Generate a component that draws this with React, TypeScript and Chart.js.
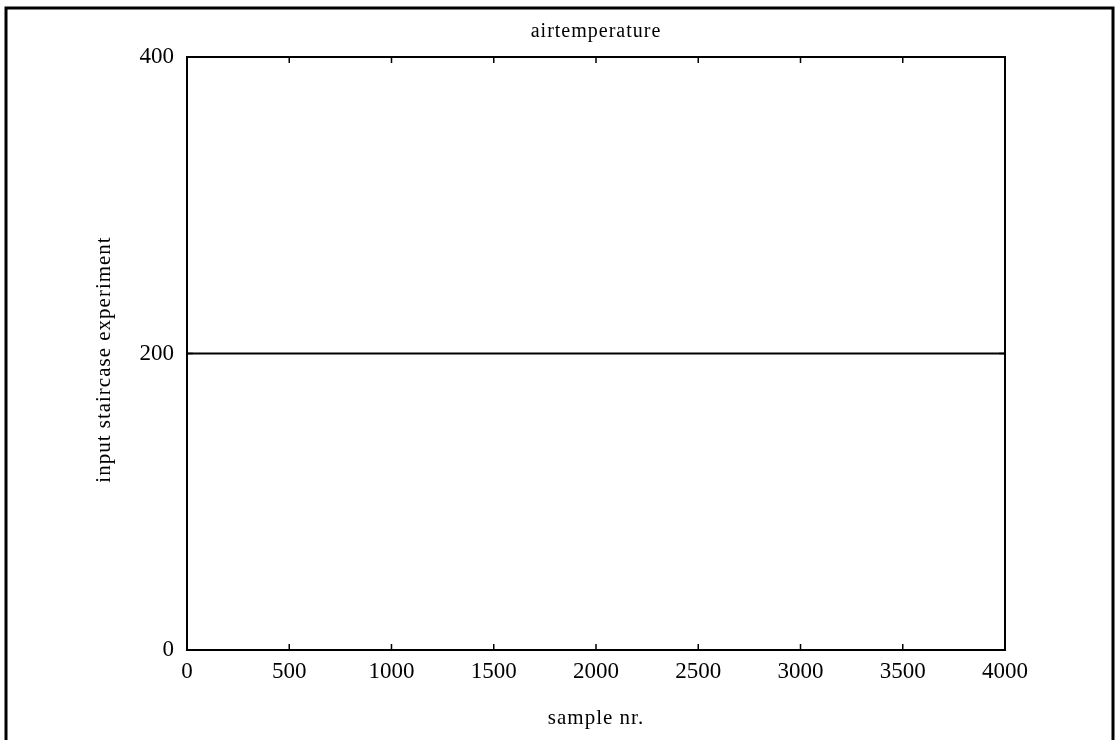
import React, { useEffect, useRef } from "react";
import { Chart, registerables } from "chart.js";

Chart.register(...registerables);

const TITLE = "airtemperature";
const X_LABEL = "sample nr.";
const Y_LABEL = "input staircase experiment";
const sampleNr = [0, 1000, 2000, 3000, 4000];
const inputValues = [200, 200, 200, 200, 200];
const xTicks = [0, 500, 1000, 1500, 2000, 2500, 3000, 3500, 4000];
const yTicks = [0, 200, 400];

const FONT = "'Liberation Serif', 'DejaVu Serif', serif";

const framePlugin = {
  id: "framePlugin",
  afterDraw(chart: any) {
    const { ctx, chartArea, scales } = chart;
    const { left, right, top, bottom } = chartArea;
    ctx.save();
    ctx.strokeStyle = "#000";
    ctx.lineWidth = 2;
    ctx.strokeRect(left, top, right - left, bottom - top);
    ctx.lineWidth = 1.5;
    const tl = 6;
    xTicks.forEach((v) => {
      const x = scales.x.getPixelForValue(v);
      ctx.beginPath();
      ctx.moveTo(x, bottom);
      ctx.lineTo(x, bottom - tl);
      ctx.moveTo(x, top);
      ctx.lineTo(x, top + tl);
      ctx.stroke();
    });
    yTicks.forEach((v) => {
      const y = scales.y.getPixelForValue(v);
      ctx.beginPath();
      ctx.moveTo(left, y);
      ctx.lineTo(left + tl, y);
      ctx.moveTo(right, y);
      ctx.lineTo(right - tl, y);
      ctx.stroke();
    });
    ctx.lineWidth = 3;
    ctx.beginPath();
    ctx.moveTo(6, 745);
    ctx.lineTo(6, 8);
    ctx.lineTo(1113, 8);
    ctx.lineTo(1113, 745);
    ctx.stroke();
    ctx.fillStyle = "#000";
    const cx = (left + right) / 2;
    const cy = (top + bottom) / 2;
    try { (ctx as any).letterSpacing = "1px"; } catch (e) {}
    ctx.textAlign = "center";
    ctx.textBaseline = "middle";
    ctx.font = `20px ${FONT}`;
    ctx.fillText(TITLE, cx, 32);
    ctx.font = `21px ${FONT}`;
    ctx.fillText(X_LABEL, cx, 718);
    ctx.save();
    ctx.translate(104, cy + 6);
    ctx.rotate(-Math.PI / 2);
    ctx.fillText(Y_LABEL, 0, 0);
    ctx.restore();
    try { (ctx as any).letterSpacing = "0px"; } catch (e) {}
    ctx.restore();
  },
};

export default function App() {
  const ref = useRef<HTMLCanvasElement | null>(null);
  useEffect(() => {
    if (!ref.current) return;
    const chart = new Chart(ref.current, {
      type: "line",
      data: {
        datasets: [
          {
            data: sampleNr.map((x, i) => ({ x, y: inputValues[i] })),
            borderColor: "#000",
            borderWidth: 2,
            pointRadius: 0,
            fill: false,
            tension: 0,
          },
        ],
      },
      options: {
        animation: false,
        responsive: false,
        maintainAspectRatio: false,
        layout: { padding: { left: 0, top: 57, right: 114, bottom: 0 } },
        plugins: { legend: { display: false }, tooltip: { enabled: false }, title: { display: false } },
        scales: {
          x: {
            type: "linear",
            min: 0,
            max: 4000,
            afterFit: (s: any) => { s.height = 90; },
            afterBuildTicks: (s: any) => { s.ticks = xTicks.map((v) => ({ value: v })); },
            grid: { display: false },
            border: { display: false },
            ticks: {
              color: "#000",
              padding: 0,
              maxRotation: 0,
              autoSkip: false,
              font: { family: FONT, size: 23 },
              callback: (v: any) => String(v),
            },
          },
          y: {
            type: "linear",
            min: 0,
            max: 400,
            afterFit: (s: any) => { s.width = 187; },
            afterBuildTicks: (s: any) => { s.ticks = yTicks.map((v) => ({ value: v })); },
            grid: { display: false },
            border: { display: false },
            ticks: {
              color: "#000",
              padding: 5,
              autoSkip: false,
              font: { family: FONT, size: 23 },
              callback: (v: any) => String(v),
            },
          },
        },
      },
      plugins: [framePlugin],
    });
    return () => chart.destroy();
  }, []);
  return (
    <div style={{ position: "fixed", left: 0, top: 0, width: 1119, height: 740, background: "#fff" }}>
      <canvas ref={ref} width={1119} height={740} style={{ display: "block" }} />
    </div>
  );
}
